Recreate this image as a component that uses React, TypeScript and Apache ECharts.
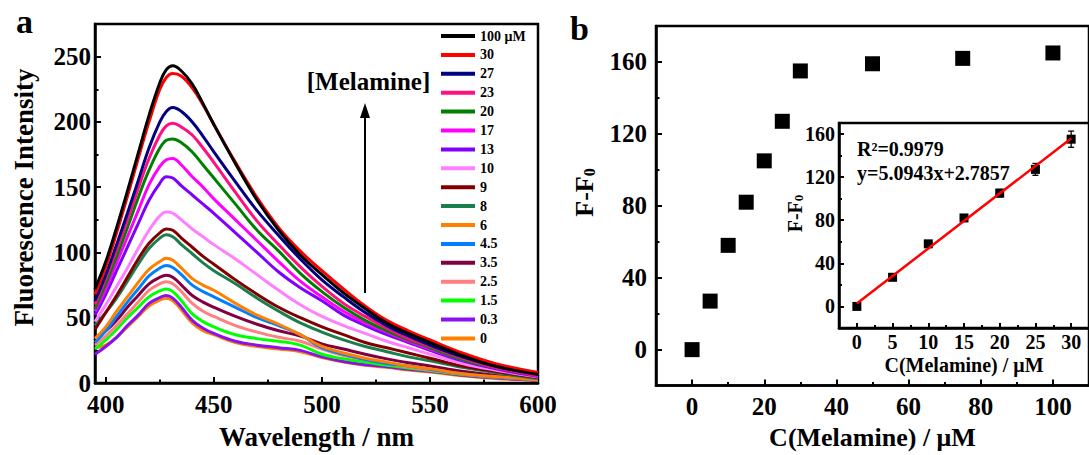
import React, { useEffect, useRef } from 'react';
import * as echarts from 'echarts';

const FONT = '"Liberation Serif", "Times New Roman", serif';

// ---------- Panel a data ----------
const wavelengths = [395, 400, 405, 410, 415, 420, 425, 428, 431, 435, 440, 445, 450, 460, 470, 480, 490, 500, 510, 520, 530, 540, 550, 565, 580, 600];

const concLabels = ['100 μM', '30', '27', '23', '20', '17', '13', '10', '9', '8', '6', '4.5', '3.5', '2.5', '1.5', '0.3', '0'];
const lineColors = ['#000000', '#ff0000', '#000080', '#ff1080', '#008000', '#ff00ff', '#8000ff', '#ff80ff', '#800000', '#1a7f4c', '#ff8000', '#0080ff', '#800040', '#ff8080', '#00ff00', '#8a10f0', '#ff8000'];

const c100 = [72, 93, 119, 147, 176, 205, 230, 240, 243, 239, 229, 214, 198, 168, 140, 117, 98, 83, 69, 57, 46, 38, 31, 21, 13, 6.5];
const c30 = [68, 89, 115, 143, 172, 200, 225, 234, 237, 235, 226, 213, 198, 169, 142, 119, 101, 86, 72, 59, 48, 40, 33, 23, 15, 8];
const c27 = [63, 83, 106, 130, 155, 180, 200, 208, 211, 208, 200, 189, 177, 154, 132, 113, 95, 79, 66, 54, 44, 36, 29, 20, 13, 7];
const c23 = [60, 80, 102, 125, 149, 172, 190, 197, 199, 196, 190, 180, 169, 146, 124, 106, 89, 74, 61, 51, 42, 34, 28, 19, 12, 6];
const c20 = [57, 76, 97, 119, 142, 163, 180, 186, 187, 184, 177, 167, 157, 137, 117, 101, 84, 70, 58, 48, 40, 33, 27, 18, 12, 6];
const c17 = [55, 72, 92, 112, 132, 152, 166, 171, 172, 167, 158, 150, 141, 125, 109, 93, 78, 66, 55, 46, 39, 32, 26, 18, 12, 5.5];
const c13 = [52, 68, 86, 104, 122, 140, 153, 158, 157, 151, 144, 137, 130, 115, 100, 85, 73, 63, 52, 44, 37, 31, 25, 17, 11, 5];
const c10 = [47, 60, 74, 88, 103, 117, 128, 131, 130, 125, 118, 112, 106, 95, 83, 71, 60, 51, 44, 38, 32, 27, 22, 15, 10, 4.5];
const c9 = [41, 54, 67, 81, 95, 107, 115, 118, 117, 111, 104, 97, 91, 79, 68, 58, 50, 43, 37, 31, 27, 23, 19, 13, 9, 4];
const c8 = [44, 54, 65, 78, 91, 103, 111, 113.5, 112, 106, 99, 92, 86, 76, 65, 55, 46, 39, 33, 28, 24, 20, 17, 12, 8, 3.5];
const c6 = [34, 43, 55, 66, 77, 87, 93, 95.5, 94, 88, 80, 75, 71, 61, 52, 45, 37, 28, 23, 19, 16, 13, 11, 7, 5, 2.5];
const c4_5 = [31, 40, 51, 62, 72, 82, 88, 90, 88.5, 83, 75, 70, 66, 58, 50, 44, 37, 27, 22, 18, 15, 13, 10.5, 7, 4.5, 2.5];
const c3_5 = [35, 40, 48, 58, 67, 76, 81, 82.5, 81, 75, 67, 62, 58, 51, 45, 40, 36, 30, 26, 22, 18.5, 15.5, 13, 9, 6, 3];
const c2_5 = [29, 36, 44, 53, 62, 71, 76, 77.5, 76, 70, 61, 55, 51, 44, 39, 35, 32, 26, 21, 18, 15, 12.5, 10, 7, 4.5, 2.5];
const c1_5 = [26, 33, 41, 50, 58, 66, 70.5, 72, 70, 63, 53, 47, 43, 37, 34, 32, 29, 22, 18.5, 16, 13.5, 11.5, 9.5, 6.5, 4.5, 2.5];
const c0_3 = [22, 28, 35, 44, 52, 61, 65.5, 67, 65, 58, 48, 42, 38, 32, 29, 27, 25, 20, 16.5, 14, 12.5, 10.5, 9, 6, 4, 2];
const c0 = [27, 29, 35, 43, 51, 59, 63.5, 65, 63, 56, 46, 40, 37, 31, 28, 26, 24, 19.5, 16, 13.5, 12, 10, 8.5, 5.5, 3.5, 2];

const spectra = [c100, c30, c27, c23, c20, c17, c13, c10, c9, c8, c6, c4_5, c3_5, c2_5, c1_5, c0_3, c0];

const aXTicks = [400, 450, 500, 550, 600];
const aXMinor = [425, 475, 525, 575];
const aYTicks = [0, 50, 100, 150, 200, 250];
const aYMinor = [25, 75, 125, 175, 225];

// ---------- Panel b data ----------
const concB = [0, 5, 10, 15, 20, 25, 30, 50, 75, 100];
const deltaB = [0, 27, 58, 82, 105, 127, 155, 159, 162, 165];
const bXTicks = [0, 20, 40, 60, 80, 100];
const bXMinor = [10, 30, 50, 70, 90];
const bYTicks = [0, 40, 80, 120, 160];
const bYMinor = [20, 60, 100, 140];

// ---------- Inset data ----------
const concIn = [0, 5, 10, 15, 20, 25, 30];
const deltaIn = [0, 27, 58, 82, 105, 127, 155];
const errIn = [1, 1.5, 1.5, 2.5, 3.5, 5.5, 7.5];
const fitX = [0, 30];
const fitY = [2.79, 155.61];
const inXTicks = [0, 5, 10, 15, 20, 25, 30];
const inXMinor = [2.5, 7.5, 12.5, 17.5, 22.5, 27.5];
const inYTicks = [0, 40, 80, 120, 160];
const inYMinor = [20, 60, 100, 140];

function mainAxis(dim: 'x' | 'y', gridIndex: number, min: number, max: number, ticks: number[], fontSize: number, margin: number, tickLen: number, lineHeight: number, extra: any = {}) {
  return {
    type: 'value',
    gridIndex,
    min,
    max,
    position: dim === 'x' ? 'bottom' : 'left',
    axisLine: { show: true, onZero: false, lineStyle: { color: '#000', width: 2.5 } },
    axisTick: { show: true, inside: true, length: tickLen, customValues: ticks, lineStyle: { color: '#000', width: 2 } },
    axisLabel: { show: true, customValues: ticks, margin, color: '#000', fontFamily: FONT, fontWeight: 'bold', fontSize, lineHeight },
    splitLine: { show: false },
    ...extra,
  };
}

function minorAxis(dim: 'x' | 'y', gridIndex: number, min: number, max: number, ticks: number[], tickLen: number) {
  return {
    type: 'value',
    gridIndex,
    min,
    max,
    position: dim === 'x' ? 'bottom' : 'left',
    axisLine: { show: false, onZero: false },
    axisTick: { show: true, inside: true, length: tickLen, customValues: ticks, lineStyle: { color: '#000', width: 2 } },
    axisLabel: { show: false },
    splitLine: { show: false },
  };
}

const nameStyle = (size: number) => ({ color: '#000', fontFamily: FONT, fontWeight: 'bold', fontSize: size });

const option: any = {
  animation: false,
  backgroundColor: '#fff',
  grid: [
    { left: 95, top: 24, width: 443, height: 360, show: true, borderColor: '#000', borderWidth: 2.5, backgroundColor: '#fff' },
    { left: 656, top: 26, width: 441, height: 361, show: true, borderColor: '#000', borderWidth: 2.5, backgroundColor: '#fff' },
    { left: 839, top: 123, width: 252, height: 205, show: true, borderColor: '#000', borderWidth: 2.5, backgroundColor: '#fff', z: 5 },
  ],
  xAxis: [
    mainAxis('x', 0, 395, 600, aXTicks, 25, 12, 6, 18, { name: 'Wavelength / nm', nameLocation: 'middle', nameGap: 40, nameTextStyle: nameStyle(27) }),
    minorAxis('x', 0, 395, 600, aXMinor, 3.5),
    mainAxis('x', 1, -10, 110, bXTicks, 25, 12, 6, 18, { name: 'C(Melamine) / μM', nameLocation: 'middle', nameGap: 37, nameTextStyle: nameStyle(26) }),
    minorAxis('x', 1, -10, 110, bXMinor, 3.5),
    { ...mainAxis('x', 2, -2.5, 32.5, inXTicks, 20, 6, 5, 15, { name: 'C(Melamine) / μM', nameLocation: 'middle', nameGap: 27, nameTextStyle: nameStyle(20) }), z: 6 },
    { ...minorAxis('x', 2, -2.5, 32.5, inXMinor, 3), z: 6 },
  ],
  yAxis: [
    mainAxis('y', 0, 0, 275, aYTicks, 25, 4, 6, 18),
    minorAxis('y', 0, 0, 275, aYMinor, 3.5),
    mainAxis('y', 1, -20, 180, bYTicks, 25, 9, 6, 18),
    minorAxis('y', 1, -20, 180, bYMinor, 3.5),
    { ...mainAxis('y', 2, -20, 170, inYTicks, 20, 4, 5, 15), z: 6 },
    { ...minorAxis('y', 2, -20, 170, inYMinor, 3), z: 6 },
  ],
  legend: {
    data: concLabels,
    orient: 'vertical',
    left: 441,
    top: 29,
    itemWidth: 34,
    itemHeight: 4,
    itemGap: 4.9,
    icon: 'rect',
    selectedMode: false,
    padding: 0,
    textStyle: { color: '#000', fontFamily: FONT, fontWeight: 'bold', fontSize: 14, lineHeight: 14 },
  },
  series: [
    ...spectra
      .map((vals, i) => ({
        name: concLabels[i],
        type: 'line',
        xAxisIndex: 0,
        yAxisIndex: 0,
        data: wavelengths.map((w, j) => [w, vals[j]]),
        smooth: 0.4,
        symbol: 'none',
        lineStyle: { color: lineColors[i], width: 3 },
        itemStyle: { color: lineColors[i] },
        z: 2,
      }))
      .reverse(),
    {
      name: 'F-F0',
      type: 'scatter',
      xAxisIndex: 2,
      yAxisIndex: 2,
      data: concB.map((c, i) => [c, deltaB[i]]),
      symbol: 'rect',
      symbolSize: 15,
      itemStyle: { color: '#000', opacity: 1 },
      z: 3,
    },
    {
      name: 'err',
      type: 'custom',
      xAxisIndex: 4,
      yAxisIndex: 4,
      z: 7,
      data: concIn.map((c, i) => [c, deltaIn[i], errIn[i]]),
      renderItem: (params: any, api: any) => {
        const x = api.value(0);
        const y = api.value(1);
        const e = api.value(2);
        const top = api.coord([x, y + e]);
        const bot = api.coord([x, y - e]);
        const st = { stroke: '#000', lineWidth: 1.3 };
        return {
          type: 'group',
          children: [
            { type: 'line', shape: { x1: top[0], y1: top[1], x2: bot[0], y2: bot[1] }, style: st },
            { type: 'line', shape: { x1: top[0] - 3, y1: top[1], x2: top[0] + 3, y2: top[1] }, style: st },
            { type: 'line', shape: { x1: bot[0] - 3, y1: bot[1], x2: bot[0] + 3, y2: bot[1] }, style: st },
          ],
        };
      },
    },
    {
      name: 'inset',
      type: 'scatter',
      xAxisIndex: 4,
      yAxisIndex: 4,
      data: concIn.map((c, i) => [c, deltaIn[i]]),
      symbol: 'rect',
      symbolSize: 9,
      itemStyle: { color: '#000', opacity: 1 },
      z: 8,
    },
    {
      name: 'fit',
      type: 'line',
      xAxisIndex: 4,
      yAxisIndex: 4,
      data: fitX.map((x, i) => [x, fitY[i]]),
      symbol: 'none',
      lineStyle: { color: '#ff0000', width: 2.5 },
      z: 9,
    },
  ],
  graphic: [
    { type: 'text', x: 16, y: 21, z: 100, style: { text: 'a', fill: '#000', fontFamily: FONT, fontWeight: 'bold', fontSize: 34, align: 'left', verticalAlign: 'middle' } },
    { type: 'text', x: 570, y: 28.5, z: 100, style: { text: 'b', fill: '#000', fontFamily: FONT, fontWeight: 'bold', fontSize: 34, align: 'left', verticalAlign: 'middle' } },
    { type: 'text', x: 368.5, y: 81.5, z: 100, style: { text: '[Melamine]', fill: '#000', fontFamily: FONT, fontWeight: 'bold', fontSize: 25, align: 'center', verticalAlign: 'middle' } },
    { type: 'line', z: 100, shape: { x1: 365, y1: 293, x2: 365, y2: 112 }, style: { stroke: '#000', lineWidth: 2 } },
    { type: 'polygon', z: 100, shape: { points: [[360, 118], [365, 103], [370, 118]] }, style: { fill: '#000' } },
    { type: 'text', x: 24, y: 197.5, rotation: Math.PI / 2, z: 100, style: { text: 'Fluorescence Intensity', fill: '#000', fontFamily: FONT, fontWeight: 'bold', fontSize: 27, align: 'center', verticalAlign: 'middle' } },
    {
      type: 'text', x: 584, y: 192.5, rotation: Math.PI / 2, z: 100,
      style: {
        text: 'F-F{sub|0}', fill: '#000', fontFamily: FONT, fontWeight: 'bold', fontSize: 26, lineHeight: 26, align: 'center', verticalAlign: 'middle',
        rich: { sub: { fontFamily: FONT, fontWeight: 'bold', fontSize: 16, lineHeight: 2, verticalAlign: 'bottom', fill: '#000' } },
      },
    },
    {
      type: 'text', x: 795, y: 213.5, rotation: Math.PI / 2, z: 100,
      style: {
        text: 'F-F{sub|0}', fill: '#000', fontFamily: FONT, fontWeight: 'bold', fontSize: 20, lineHeight: 20, align: 'center', verticalAlign: 'middle',
        rich: { sub: { fontFamily: FONT, fontWeight: 'bold', fontSize: 13, lineHeight: 2, verticalAlign: 'bottom', fill: '#000' } },
      },
    },
    { type: 'text', x: 857, y: 149, z: 100, style: { text: 'R²=0.9979', fill: '#000', fontFamily: FONT, fontWeight: 'bold', fontSize: 20, align: 'left', verticalAlign: 'middle' } },
    { type: 'text', x: 857, y: 173, z: 100, style: { text: 'y=5.0943x+2.7857', fill: '#000', fontFamily: FONT, fontWeight: 'bold', fontSize: 20, align: 'left', verticalAlign: 'middle' } },
  ],
};

export default function App() {
  const ref = useRef<HTMLDivElement>(null);
  useEffect(() => {
    if (!ref.current) return;
    const chart = echarts.init(ref.current, null, { renderer: 'svg' });
    chart.setOption(option);
    return () => chart.dispose();
  }, []);
  return <div ref={ref} style={{ position: 'fixed', left: 0, top: 0, width: 1089, height: 455, background: '#fff' }} />;
}
